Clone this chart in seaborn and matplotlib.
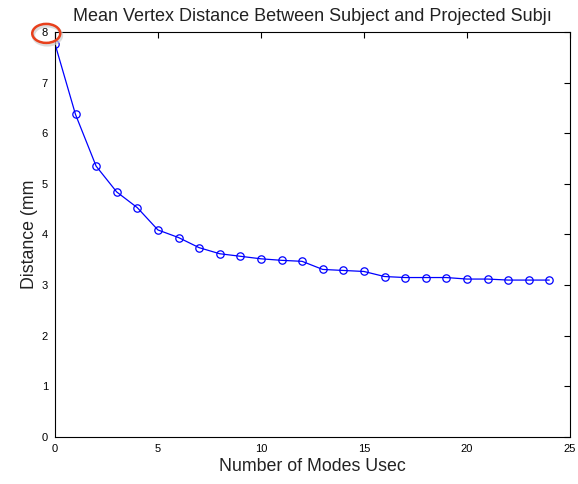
import matplotlib
matplotlib.use("Agg")
import matplotlib.pyplot as plt
from matplotlib.patches import Ellipse
import seaborn as sns
import pandas as pd

modes = list(range(25))
distance = [7.77, 6.37, 5.35, 4.84, 4.53, 4.09, 3.94, 3.74, 3.62, 3.57, 3.52,
            3.49, 3.47, 3.31, 3.29, 3.27, 3.17, 3.15, 3.15, 3.15, 3.12, 3.12,
            3.10, 3.10, 3.10]
x_ticks = [0, 5, 10, 15, 20, 25]
y_ticks = [0, 1, 2, 3, 4, 5, 6, 7, 8]
title = "Mean Vertex Distance Between Subject and Projected Subj\u0131"
xlabel = "Number of Modes Usec"
ylabel = "Distance (mm"

sns.set_style("white")
plt.rcParams['font.family'] = ['Liberation Sans', 'DejaVu Sans']

df = pd.DataFrame({"modes": modes, "distance": distance})

fig = plt.figure(figsize=(5.78, 4.84), dpi=100)
ax = fig.add_axes([0.095, 0.097, 0.891, 0.837])
sns.lineplot(data=df, x="modes", y="distance", ax=ax, color="#0000ff",
             linewidth=0.9, marker="o", markersize=5.3, markerfacecolor="none",
             markeredgecolor="#0000ff", markeredgewidth=0.9)

ax.set_xlim(0, 25)
ax.set_ylim(0, 8)
ax.set_xticks(x_ticks)
ax.set_yticks(y_ticks)
ax.tick_params(direction="in", top=True, right=True, length=4, width=0.8,
               labelsize=8, colors="black", pad=5)
for s in ax.spines.values():
    s.set_color("black")
    s.set_linewidth(0.8)
ax.set_title(title, fontsize=13, pad=8, color="#222222")
ax.set_xlabel(xlabel, fontsize=12.8, labelpad=3, color="#222222")
ax.set_ylabel(ylabel, fontsize=12.8, labelpad=3, color="#222222")

# red highlight circle around the "8" tick label
shadow = Ellipse((0.082, 0.927), 28 / 578, 19 / 484, transform=fig.transFigure,
                 fill=False, edgecolor="#cccccc", linewidth=2.5, alpha=0.7)
shadow.set_clip_on(False)
fig.add_artist(shadow)
circ = Ellipse((0.080, 0.931), 28 / 578, 19 / 484, transform=fig.transFigure,
               fill=False, edgecolor="#e8401c", linewidth=1.8)
circ.set_clip_on(False)
fig.add_artist(circ)

fig.savefig("out.png", dpi=100, facecolor="white")
